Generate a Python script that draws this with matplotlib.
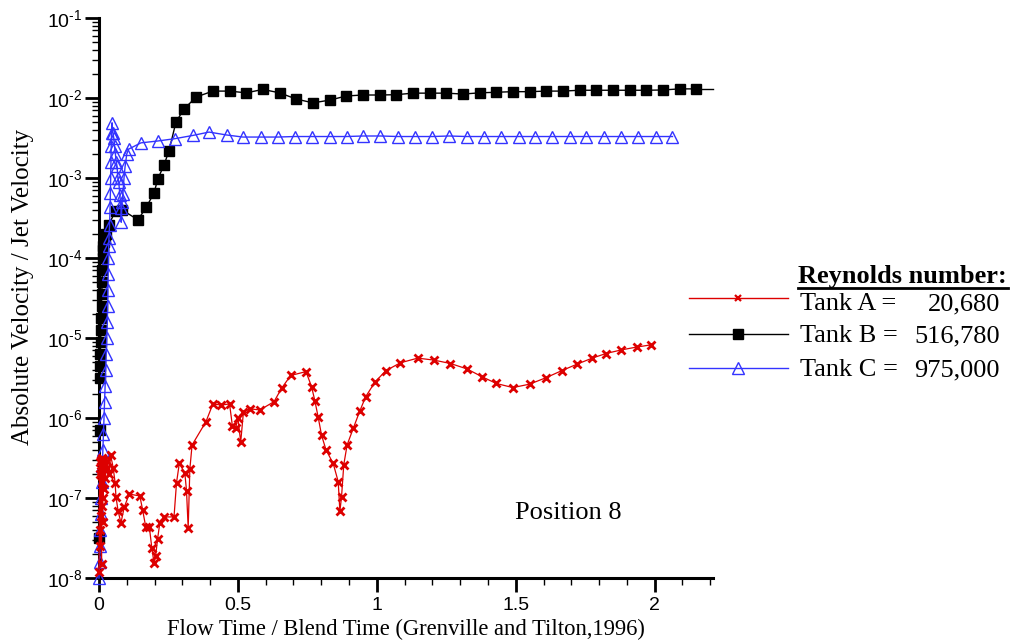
import numpy as np
import matplotlib
matplotlib.use("Agg")
import matplotlib.pyplot as plt
from matplotlib.lines import Line2D
from matplotlib.ticker import MultipleLocator, LogLocator, FuncFormatter, NullFormatter

plt.rcParams['mathtext.fontset'] = 'custom'
plt.rcParams['mathtext.rm'] = 'Liberation Sans'
plt.rcParams['mathtext.default'] = 'regular'

# ---------------- data ----------------
# Tank A (red, x markers)
tank_a_x = [0.000, 0.002, 0.003, 0.004, 0.005, 0.006, 0.007, 0.008, 0.009, 0.010,
            0.011, 0.012, 0.013, 0.014, 0.015, 0.016, 0.018, 0.020, 0.022, 0.025,
            0.030, 0.036, 0.042, 0.051, 0.058, 0.061, 0.069, 0.079, 0.091, 0.109,
            0.147, 0.157, 0.168, 0.181, 0.190, 0.198, 0.204, 0.211, 0.219, 0.234,
            0.270, 0.279, 0.289, 0.309, 0.315, 0.321, 0.327, 0.335, 0.385, 0.410,
            0.440, 0.470, 0.480, 0.492, 0.500, 0.510, 0.520, 0.545, 0.579, 0.630,
            0.657, 0.690, 0.745, 0.765, 0.777, 0.789, 0.801, 0.817, 0.843, 0.861,
            0.867, 0.873, 0.881, 0.893, 0.915, 0.939, 0.960, 0.993, 1.032, 1.085,
            1.147, 1.205, 1.265, 1.325, 1.377, 1.430, 1.490, 1.550, 1.610, 1.665,
            1.720, 1.775, 1.825, 1.880, 1.935, 1.986]
tank_a_y = [1.2e-8, 2.0e-7, 2.5e-8, 2.8e-7, 4.0e-8, 3.0e-7, 6.0e-8, 2.2e-7, 1.5e-8, 1.6e-7,
            8.0e-8, 3.2e-7, 5.0e-8, 2.5e-7, 1.0e-7, 3.0e-7, 1.3e-7, 2.6e-7, 1.8e-7, 2.3e-7,
            2.9e-7, 2.0e-7, 3.4e-7, 2.4e-7, 1.55e-7, 1.04e-7, 6.8e-8, 4.9e-8, 7.7e-8, 1.12e-7,
            1.06e-7, 7.1e-8, 4.4e-8, 4.4e-8, 2.4e-8, 1.55e-8, 1.9e-8, 3.1e-8, 4.9e-8, 5.8e-8,
            5.8e-8, 1.55e-7, 2.7e-7, 2.05e-7, 1.23e-7, 4.2e-8, 2.3e-7, 4.6e-7, 9.0e-7, 1.5e-6,
            1.45e-6, 1.5e-6, 8.0e-7, 7.5e-7, 1.0e-6, 5.0e-7, 1.2e-6, 1.3e-6, 1.26e-6, 1.6e-6,
            2.35e-6, 3.4e-6, 3.8e-6, 2.47e-6, 1.64e-6, 1.02e-6, 6.1e-7, 4.0e-7, 2.7e-7, 1.6e-7,
            6.8e-8, 1.04e-7, 2.6e-7, 4.6e-7, 7.4e-7, 1.23e-6, 1.85e-6, 2.8e-6, 3.9e-6, 4.9e-6,
            5.6e-6, 5.3e-6, 4.8e-6, 4.1e-6, 3.3e-6, 2.7e-6, 2.4e-6, 2.65e-6, 3.2e-6, 3.9e-6,
            4.7e-6, 5.6e-6, 6.4e-6, 7.1e-6, 7.7e-6, 8.2e-6]

# Tank B (black, filled squares)
tank_b_x = [0.000, 0.002, 0.003, 0.004, 0.005, 0.006, 0.007, 0.008, 0.009, 0.010,
            0.011, 0.012, 0.013, 0.014, 0.016, 0.018, 0.020, 0.025, 0.035, 0.060,
            0.083, 0.140, 0.170, 0.198, 0.212, 0.234, 0.252, 0.277, 0.306, 0.350,
            0.410, 0.470, 0.530, 0.590, 0.650, 0.710, 0.770, 0.830, 0.890, 0.950,
            1.010, 1.070, 1.130, 1.190, 1.250, 1.310, 1.370, 1.430, 1.490, 1.550,
            1.610, 1.670, 1.730, 1.790, 1.850, 1.910, 1.970, 2.030, 2.090, 2.150]
tank_b_y = [3.2e-8, 7.0e-7, 3.2e-6, 4.5e-6, 6.3e-6, 8.9e-6, 1.26e-5, 1.8e-5, 2.5e-5, 3.5e-5,
            5.0e-5, 7.1e-5, 1.0e-4, 1.26e-4, 1.4e-4, 1.6e-4, 1.8e-4, 2.0e-4, 2.6e-4, 3.9e-4,
            4.0e-4, 3.0e-4, 4.3e-4, 6.5e-4, 9.8e-4, 1.45e-3, 2.2e-3, 5.0e-3, 7.3e-3, 1.03e-2,
            1.22e-2, 1.22e-2, 1.16e-2, 1.28e-2, 1.16e-2, 9.7e-3, 8.7e-3, 9.4e-3, 1.06e-2, 1.09e-2,
            1.09e-2, 1.10e-2, 1.15e-2, 1.15e-2, 1.15e-2, 1.12e-2, 1.16e-2, 1.18e-2, 1.20e-2, 1.20e-2,
            1.22e-2, 1.22e-2, 1.25e-2, 1.25e-2, 1.25e-2, 1.25e-2, 1.25e-2, 1.26e-2, 1.30e-2, 1.30e-2]
tank_b_end_x = [2.150, 2.210]
tank_b_end_y = [1.30e-2, 1.30e-2]

# Tank C (blue, open triangles)
tank_c_x = [0.000, 0.002, 0.004, 0.005, 0.006, 0.008, 0.010, 0.012, 0.014, 0.016,
            0.018, 0.020, 0.022, 0.024, 0.026, 0.028, 0.030, 0.031, 0.032, 0.033,
            0.034, 0.035, 0.036, 0.038, 0.040, 0.041, 0.042, 0.043, 0.044, 0.045,
            0.047, 0.050, 0.053, 0.056, 0.059, 0.062, 0.065, 0.068, 0.071, 0.075,
            0.079, 0.080, 0.083, 0.086, 0.090, 0.094, 0.100, 0.107, 0.151, 0.211,
            0.273, 0.337, 0.396, 0.459, 0.518, 0.582, 0.643, 0.705, 0.766, 0.831,
            0.891, 0.950, 1.013, 1.076, 1.137, 1.200, 1.259, 1.323, 1.385, 1.446,
            1.510, 1.568, 1.632, 1.694, 1.754, 1.817, 1.878, 1.941, 2.004, 2.064]
tank_c_y = [1.0e-8, 1.6e-8, 2.5e-8, 4.0e-8, 6.3e-8, 1.0e-7, 1.6e-7, 2.5e-7, 4.0e-7, 6.3e-7,
            1.0e-6, 1.6e-6, 2.5e-6, 4.0e-6, 6.3e-6, 1.0e-5, 1.6e-5, 2.5e-5, 4.0e-5, 6.3e-5,
            1.0e-4, 1.4e-4, 1.8e-4, 2.6e-4, 4.4e-4, 6.5e-4, 1.0e-3, 1.6e-3, 2.5e-3, 3.7e-3,
            4.9e-3, 3.7e-3, 3.2e-3, 2.5e-3, 2.0e-3, 1.6e-3, 1.4e-3, 1.0e-3, 9.0e-4, 6.2e-4,
            4.2e-4, 2.8e-4, 5.0e-4, 6.3e-4, 1.0e-3, 1.4e-3, 2.0e-3, 2.3e-3, 2.75e-3, 2.9e-3,
            3.1e-3, 3.4e-3, 3.75e-3, 3.45e-3, 3.25e-3, 3.25e-3, 3.25e-3, 3.3e-3, 3.3e-3, 3.3e-3,
            3.3e-3, 3.35e-3, 3.35e-3, 3.3e-3, 3.3e-3, 3.3e-3, 3.35e-3, 3.3e-3, 3.3e-3, 3.3e-3,
            3.3e-3, 3.3e-3, 3.3e-3, 3.3e-3, 3.3e-3, 3.3e-3, 3.3e-3, 3.3e-3, 3.3e-3, 3.3e-3]

legend_labels = ["Tank A =", "Tank B =", "Tank C ="]
legend_values = ["20,680", "516,780", "975,000"]
legend_title = "Reynolds number:"

RED = '#dd0000'
BLACK = '#000000'
BLUE = '#3333ff'

# ---------------- figure ----------------
W, H = 1018, 644
fig = plt.figure(figsize=(W / 100, H / 100), dpi=100)
ax = fig.add_axes([99 / W, 66 / H, 614 / W, 560 / H])

ax.plot(tank_b_x, tank_b_y, color=BLACK, lw=1.0, marker='s', ms=6.5,
        mfc=BLACK, mec=BLACK, clip_on=False, zorder=3)
ax.plot(tank_b_end_x, tank_b_end_y, color=BLACK, lw=1.0, clip_on=False, zorder=3)
ax.plot(tank_c_x, tank_c_y, color=BLUE, lw=1.0, marker='^', ms=9,
        mfc='none', mec=BLUE, mew=1.0, clip_on=False, zorder=4)
ax.plot(tank_a_x, tank_a_y, color=RED, lw=0.9, marker='x', ms=6,
        mec=RED, mew=2.0, clip_on=False, zorder=5)

ax.set_yscale('log')
ax.set_xlim(0, 2.21)
ax.set_ylim(1e-8, 1e-1)

for s in ['top', 'right']:
    ax.spines[s].set_visible(False)
for s in ['left', 'bottom']:
    ax.spines[s].set_linewidth(2.2)

ax.xaxis.set_major_locator(MultipleLocator(0.5))
ax.xaxis.set_minor_locator(MultipleLocator(0.1))
ax.xaxis.set_major_formatter(FuncFormatter(lambda v, p: '0' if abs(v) < 1e-9 else ('%g' % v)))
ax.yaxis.set_major_locator(LogLocator(base=10, numticks=20))
ax.yaxis.set_minor_locator(LogLocator(base=10, subs=np.arange(2, 10), numticks=20))
ax.yaxis.set_minor_formatter(NullFormatter())
ax.yaxis.set_major_formatter(FuncFormatter(
    lambda v, p: '$\\mathregular{10^{\u2010%d}}$' % abs(int(round(np.log10(v))))))

ax.tick_params(which='major', direction='out', length=10, width=2.0,
               labelsize=14)
ax.tick_params(axis='y', which='major', pad=2)
ax.tick_params(axis='x', which='major', pad=4)
ax.tick_params(which='minor', direction='out', length=5, width=1.0)
for lab in ax.get_xticklabels() + ax.get_yticklabels():
    lab.set_fontfamily('Liberation Sans')

serif = 'Liberation Serif'
ax.set_xlabel('Flow Time / Blend Time (Grenville and Tilton,1996)',
              fontfamily=serif, fontsize=16.3, labelpad=3)
ax.set_ylabel('Absolute Velocity / Jet Velocity', fontfamily=serif, fontsize=18)
ax.yaxis.set_label_coords(-0.106, 0.52)

fig.text(515 / W, 1 - 519 / H, 'Position 8', fontfamily=serif, fontsize=19,
         ha='left', va='baseline')

# legend drawn manually
fig.text(798 / W, 1 - 283 / H, legend_title, fontfamily=serif, fontsize=19,
         fontweight='bold', ha='left', va='baseline')
fig.add_artist(Line2D([798 / W, 1008 / W], [1 - 287.5 / H] * 2, color='black', lw=2.0,
                      transform=fig.transFigure))
line_ys = [298, 334, 368]
text_ys = [310, 342, 376]
cols = [RED, BLACK, BLUE]
mk = [dict(marker='x', ms=5, mew=1.6, mec=RED),
      dict(marker='s', ms=6.5, mfc=BLACK, mec=BLACK),
      dict(marker='^', ms=9, mfc='none', mec=BLUE, mew=1.0)]
for yy, ty, c, m, lab, val in zip(line_ys, text_ys, cols, mk, legend_labels, legend_values):
    yf = 1 - yy / H
    tf = 1 - ty / H
    fig.add_artist(Line2D([689 / W, 788 / W], [yf, yf], color=c, lw=1.0,
                          transform=fig.transFigure))
    fig.add_artist(Line2D([738 / W], [yf], color=c, lw=0, transform=fig.transFigure, **m))
    fig.text(800 / W, tf, lab, fontfamily=serif, fontsize=19, ha='left', va='baseline')
    fig.text(1000 / W, tf, val, fontfamily=serif, fontsize=19, ha='right', va='baseline')

fig.savefig('out.png', dpi=100)
